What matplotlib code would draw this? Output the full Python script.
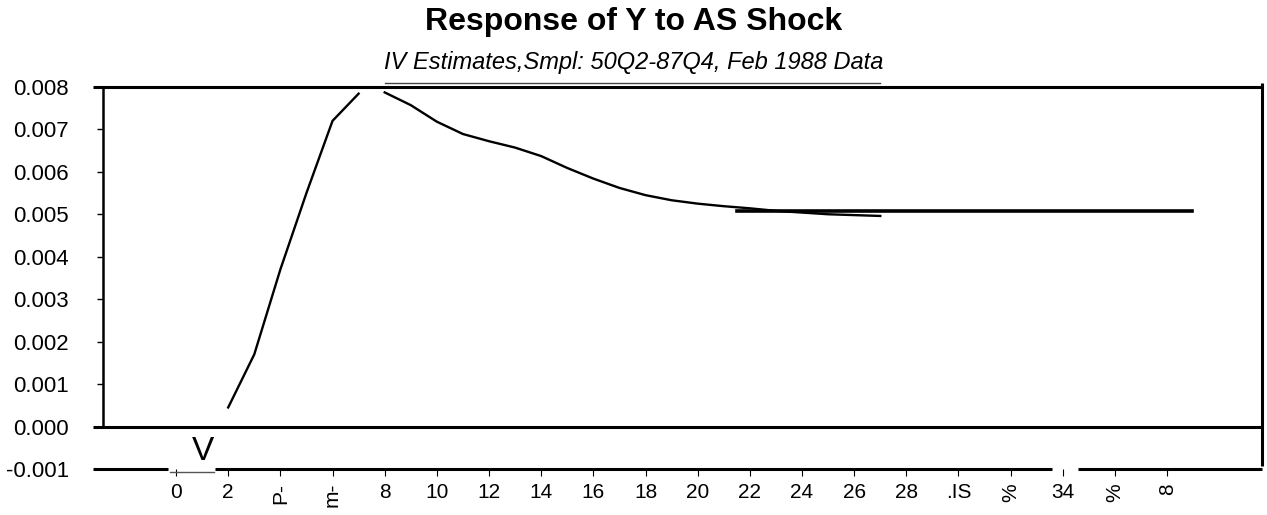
import numpy as np
import matplotlib.pyplot as plt
from matplotlib.lines import Line2D

# Arial-like font
plt.rcParams['font.family'] = ['Liberation Sans', 'DejaVu Sans']

title = 'Response of Y to AS Shock'
subtitle = 'IV Estimates,Smpl: 50Q2-87Q4, Feb 1988 Data'

# response, two pieces (the scan has a gap between 7 and 8)
steps_a = [2, 3, 4, 5, 6, 7]
resp_a = [0.00045, 0.0017, 0.0037, 0.0055, 0.0072, 0.00784]
steps_b = [8, 9, 10, 11, 12, 13, 14, 15, 16, 17,
           18, 19, 20, 21, 22, 23, 24, 25, 26, 27]
resp_b = [0.00787, 0.00757, 0.00718, 0.00689, 0.00672, 0.00657, 0.00637, 0.00609, 0.00584, 0.00562,
          0.00545, 0.00533, 0.00525, 0.00519, 0.00514, 0.00508, 0.00504, 0.00500, 0.00498, 0.00496]

# long run level
level_x = [21.5, 38.95]
level_y = [0.00507, 0.00507]

yticks = [-0.001, 0.000, 0.001, 0.002, 0.003, 0.004, 0.005, 0.006, 0.007, 0.008]
ytick_labels = ['-0.001', '0.000', '0.001', '0.002', '0.003', '0.004', '0.005', '0.006', '0.007', '0.008']
xticks = [0, 2, 4, 6, 8, 10, 12, 14, 16, 18, 20, 22, 24, 26, 28, 30, 32, 34, 36, 38]
xtick_labels = ['0', '2', 'P-', 'm-', '8', '10', '12', '14', '16', '18',
                '20', '22', '24', '26', '28', '.IS', '%', '34', '%', '8']
rotated = [2, 3, 16, 18, 19]

fig = plt.figure(figsize=(12.67, 5.15), dpi=100)
ax = fig.add_axes([0.0813, 0.0893, 0.914, 0.742])

ax.plot(steps_a, resp_a, color='black', linewidth=1.7)
ax.plot(steps_b, resp_b, color='black', linewidth=1.7)
ax.plot(level_x, level_y, color='black', linewidth=2.6)

ax.set_xlim(-2.8, 41.6)
ax.set_ylim(-0.001, 0.008)

# frame lines like the scanned original
for s in ['top', 'bottom', 'right']:
    ax.spines[s].set_visible(False)
ax.spines['left'].set_bounds(0, 0.008)
ax.spines['left'].set_linewidth(1.8)
kw = dict(color='black', linewidth=2.2, clip_on=False, solid_capstyle='butt')
ax.plot([-3.2, 41.64], [0.008, 0.008], **kw)
ax.plot([-3.2, 41.64], [0.0, 0.0], **kw)
ax.plot([41.62, 41.62], [-0.00092, 0.0081], **kw)
ax.plot([-3.2, -0.3], [-0.001, -0.001], **kw)
ax.plot([1.5, 33.6], [-0.001, -0.001], **kw)
ax.plot([34.6, 41.64], [-0.001, -0.001], **kw)
ax.plot([-0.25, 1.45], [-0.00107, -0.00107], color='#555555', linewidth=1, clip_on=False)
ax.text(1.04, -0.00078, 'V', fontsize=24, ha='center', va='baseline')

ax.set_yticks(yticks)
ax.set_yticklabels(ytick_labels)
ax.set_xticks(xticks)
ax.set_xticklabels(xtick_labels)
for i, lab in enumerate(ax.get_xticklabels()):
    if i in rotated:
        lab.set_rotation(90)
ax.tick_params(axis='y', direction='out', length=4, width=1, pad=20.5, labelsize=16)
ax.tick_params(axis='x', direction='out', length=5, width=0.8, pad=5, labelsize=15)

fig.text(0.5, 0.958, title, fontsize=23, fontweight='bold', ha='center', va='center')
fig.text(0.5, 0.879, subtitle, fontsize=17, style='italic', ha='center', va='center')
fig.add_artist(Line2D([385 / 1267, 880 / 1267], [1 - 83 / 515, 1 - 83 / 515],
                      color='#444444', linewidth=1))

fig.savefig('out.png', dpi=100)
